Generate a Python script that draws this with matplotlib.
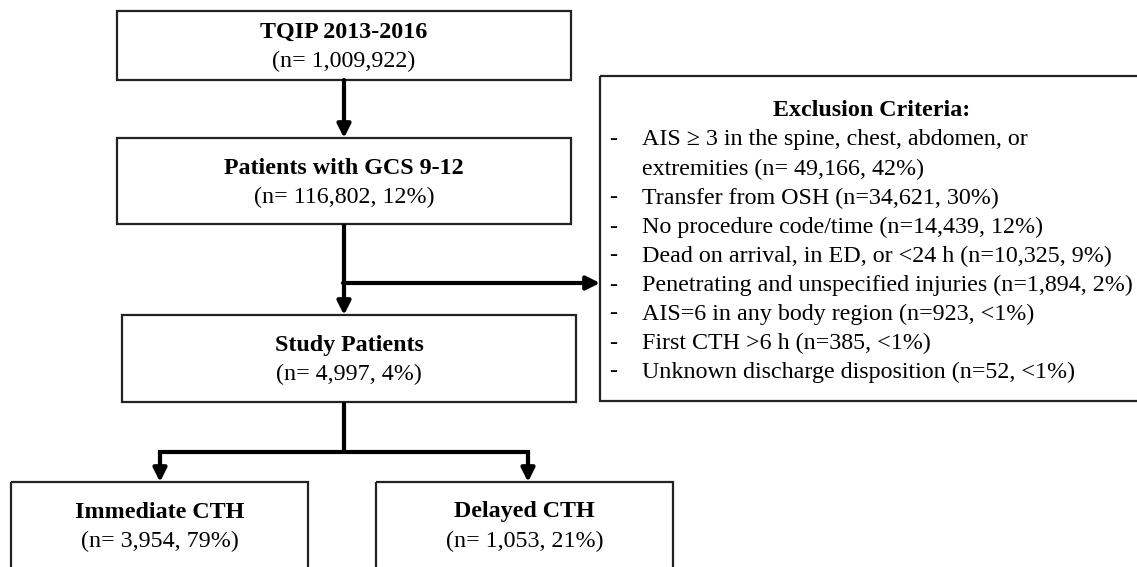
import matplotlib.pyplot as plt
from matplotlib.patches import Rectangle

plt.rcParams['font.family'] = ['Liberation Serif', 'DejaVu Serif']

# flow boxes: title, count text
box_titles = ['TQIP 2013-2016', 'Patients with GCS 9-12', 'Study Patients',
              'Immediate CTH', 'Delayed CTH']
box_counts = ['1,009,922', '116,802', '4,997', '3,954', '1,053']
box_pcts = [None, '12%', '4%', '79%', '21%']

excl_title = 'Exclusion Criteria:'
excl_items = ['AIS \u2265 3 in the spine, chest, abdomen, or\nextremities (n= 49,166, 42%)',
              'Transfer from OSH (n=34,621, 30%)',
              'No procedure code/time (n=14,439, 12%)',
              'Dead on arrival, in ED, or <24 h (n=10,325, 9%)',
              'Penetrating and unspecified injuries (n=1,894, 2%)',
              'AIS=6 in any body region (n=923, <1%)',
              'First CTH >6 h (n=385, <1%)',
              'Unknown discharge disposition (n=52, <1%)']

# layout in pixels (x0, y0, x1, y1), y grows downward; plus title offset
boxes = [(117, 11, 571, 80), (117, 138, 571, 224), (122, 315, 576, 402),
         (11, 482, 308, 600), (376, 482, 673, 600)]
title_off = [21, 30, 30, 30, 30]
excl_box = (600, 76, 1145, 401)

fig = plt.figure(figsize=(11.37, 5.67), dpi=100)
ax = fig.add_axes([0, 0, 1, 1])
ax.set_xlim(0, 1137)
ax.set_ylim(567, 0)
ax.axis('off')

FS = 17.3
edge = '#222222'

for (x0, y0, x1, y1), off, t, c, p in zip(boxes, title_off, box_titles, box_counts, box_pcts):
    ax.add_patch(Rectangle((x0, y0), x1 - x0, y1 - y0, fill=False, ec=edge, lw=1.6))
    cx = (x0 + x1) / 2
    ax.text(cx, y0 + off, t, ha='center', va='center', fontsize=FS, fontweight='bold')
    s = '(n= %s)' % c if p is None else '(n= %s, %s)' % (c, p)
    ax.text(cx, y0 + off + 29, s, ha='center', va='center', fontsize=FS)

# exclusion box
x0, y0, x1, y1 = excl_box
ax.add_patch(Rectangle((x0, y0), x1 - x0, y1 - y0, fill=False, ec=edge, lw=1.6,
                       clip_on=False))
ax.text(872, 110, excl_title, ha='center', va='center', fontsize=FS, fontweight='bold')
y = 140
for item in excl_items:
    ax.text(613, y, '-', ha='center', va='center', fontsize=FS)
    for line in item.split('\n'):
        ax.text(642, y, line, ha='left', va='center', fontsize=FS)
        y += 29

# connectors
lw = 3
arrow = dict(arrowstyle='-|>,head_length=0.8,head_width=0.4', lw=lw, color='black',
             shrinkA=0, shrinkB=0)


def arr(xa, ya, xb, yb):
    ax.annotate('', xy=(xb, yb), xytext=(xa, ya), arrowprops=arrow)


arr(344, 80, 344, 138)
ax.plot([344, 344], [224, 300], color='black', lw=lw, solid_capstyle='butt')
arr(344, 298, 344, 315)
arr(343, 283, 600, 283)
ax.plot([344, 344], [402, 452], color='black', lw=lw, solid_capstyle='butt')
ax.plot([160, 528], [452, 452], color='black', lw=lw, solid_capstyle='projecting')
arr(160, 452, 160, 482)
arr(528, 452, 528, 482)

fig.savefig('out.png', dpi=100)
